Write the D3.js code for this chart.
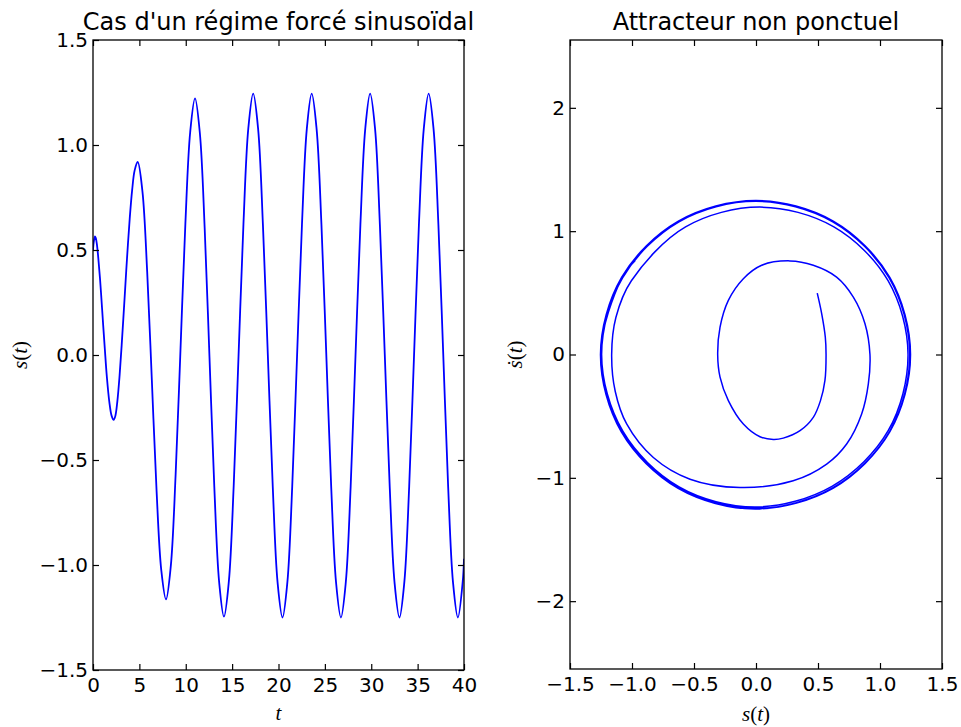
<!DOCTYPE html>
<html>
<head>
<meta charset="utf-8">
<script src="https://cdn.jsdelivr.net/npm/d3@7"></script>
<style>
  html, body { margin: 0; padding: 0; background: #ffffff; }
  svg { display: block; }
  .tick text { font-family: "DejaVu Sans", sans-serif; font-size: 20px; fill: #000; }
</style>
</head>
<body>
<svg id="chart" width="961" height="727"></svg>
<script>
// ---------------- DATA ----------------
const leftTitle = "Cas d'un régime forcé sinusoïdal";
const rightTitle = "Attracteur non ponctuel";

// time series s(t)
const timeValues = [
  0, 0.1, 0.22, 0.31, 0.44, 0.57, 0.77, 0.98, 1.10, 1.27, 1.49, 1.76, 2.01, 2.23,
  2.41, 2.62, 2.86, 3.09, 3.41, 3.67, 3.96, 4.22, 4.49, 4.82,
  5.33, 5.84, 6.345, 6.85, 7.36, 7.87,
  8.39, 8.91, 9.435, 9.96, 10.48, 11.0,
  11.52, 12.04, 12.56, 13.08, 13.60, 14.12,
  14.645, 15.17, 15.695, 16.22, 16.745, 17.27,
  17.80, 18.32, 18.85, 19.38, 19.90, 20.43,
  20.955, 21.48, 22.005, 22.53, 23.055, 23.58,
  24.105, 24.63, 25.155, 25.68, 26.205, 26.73,
  27.255, 27.78, 28.305, 28.83, 29.355, 29.88,
  30.41, 30.93, 31.46, 31.99, 32.51, 33.04,
  33.565, 34.09, 34.615, 35.14, 35.665, 36.19,
  36.715, 37.24, 37.765, 38.29, 38.815, 39.34,
  39.865, 40.0
];
const sValues = [
  0.50, 0.543, 0.565, 0.556, 0.52, 0.462, 0.355, 0.22, 0.14, 0.032, -0.102, -0.223, -0.29, -0.309,
  -0.29, -0.223, -0.102, 0.046, 0.274, 0.462, 0.65, 0.785, 0.879, 0.919,
  0.779, 0.398, -0.12, -0.643, -1.024, -1.164,
  -1.004, -0.568, 0.029, 0.626, 1.062, 1.222,
  1.057, 0.605, -0.012, -0.629, -1.081, -1.246,
  -1.079, -0.623, 0.0, 0.623, 1.079, 1.245,
  1.078, 0.621, 0.0, -0.626, -1.083, -1.25,
  -1.083, -0.626, 0.0, 0.621, 1.078, 1.245,
  1.078, 0.621, 0.0, -0.626, -1.083, -1.25,
  -1.083, -0.626, 0.0, 0.621, 1.078, 1.245,
  1.078, 0.621, 0.0, -0.626, -1.083, -1.25,
  -1.083, -0.626, 0.0, 0.621, 1.078, 1.245,
  1.078, 0.621, 0.0, -0.626, -1.083, -1.25,
  -1.078, -0.97
];

// phase portrait: s(t) and ds/dt
const phaseS = [
  0.494, 0.53, 0.559, 0.565, 0.556, 0.52, 0.462, 0.355, 0.22, 0.14, 0.032, -0.102, -0.223, -0.29, -0.309,
  -0.29, -0.223, -0.102, 0.046, 0.274, 0.462, 0.65, 0.785, 0.879, 0.919,
  0.906, 0.852, 0.731, 0.57, 0.30, -0.129, -0.532, -0.828, -1.043, -1.135, -1.164,
  -1.13, -1.005, -0.568, 0.03, 0.628, 1.065, 1.226,
  1.067, 0.616, -0.005, -0.62, -1.075, -1.245,
  -1.076, -0.621, -0.003, 0.619, 1.074, 1.24,
  1.078, 0.622, -0.004, -0.626, -1.083, -1.252,
  -1.083, -0.625, 0.0, 0.622, 1.078, 1.244,
  1.079, 0.623, -0.005, -0.627, -1.085, -1.253,
  -1.084, -0.626, 0.0, 0.623, 1.079, 1.246,
  1.08, 0.624, -0.005, -0.628, -1.086, -1.254,
  -1.084, -0.626, 0.0, 0.623, 1.079, 1.246,
  1.08, 0.624, -0.005, -0.628, -1.086, -1.254,
  -1.08, -0.975
];
const phaseDS = [
  0.498, 0.33, 0.14, 0.0, -0.21, -0.374, -0.51, -0.618, -0.678, -0.689, -0.667, -0.564, -0.374, -0.184, 0.0,
  0.222, 0.439, 0.615, 0.724, 0.759, 0.724, 0.628, 0.466, 0.25, 0.0,
  -0.238, -0.482, -0.726, -0.889, -1.024, -1.079, -1.011, -0.835, -0.563, -0.3, 0.0,
  0.3, 0.598, 1.035, 1.195, 1.035, 0.598, 0.0,
  -0.616, -1.067, -1.236, -1.073, -0.62, 0.0,
  0.621, 1.076, 1.242, 1.076, 0.621, 0.0,
  -0.623, -1.08, -1.248, -1.082, -0.625, 0.0,
  0.624, 1.08, 1.247, 1.08, 0.624, 0.0,
  -0.625, -1.082, -1.251, -1.084, -0.626, 0.0,
  0.625, 1.081, 1.248, 1.081, 0.625, 0.0,
  -0.626, -1.083, -1.252, -1.085, -0.627, 0.0,
  0.625, 1.081, 1.248, 1.081, 0.625, 0.0,
  -0.626, -1.083, -1.252, -1.085, -0.627, 0.0,
  0.624, 0.76
];

const leftXTicks = [0, 5, 10, 15, 20, 25, 30, 35, 40];
const leftXTickLabels = ["0", "5", "10", "15", "20", "25", "30", "35", "40"];
const leftYTicks = [-1.5, -1.0, -0.5, 0.0, 0.5, 1.0, 1.5];
const leftYTickLabels = ["\u22121.5", "\u22121.0", "\u22120.5", "0.0", "0.5", "1.0", "1.5"];
const rightXTicks = [-1.5, -1.0, -0.5, 0.0, 0.5, 1.0, 1.5];
const rightXTickLabels = ["\u22121.5", "\u22121.0", "\u22120.5", "0.0", "0.5", "1.0", "1.5"];
const rightYTicks = [-2, -1, 0, 1, 2];
const rightYTickLabels = ["\u22122", "\u22121", "0", "1", "2"];

// ---------------- DRAW ----------------
const svg = d3.select("#chart");
svg.append("rect").attr("width", 961).attr("height", 727).attr("fill", "#fff");

const L = { x0: 93, x1: 464, y0: 40, y1: 670 };
const R = { x0: 570, x1: 942, y0: 40, y1: 669 };

const xL = d3.scaleLinear().domain([0, 40]).range([L.x0, L.x1]);
const yL = d3.scaleLinear().domain([-1.5, 1.5]).range([L.y1, L.y0]);
const xR = d3.scaleLinear().domain([-1.5, 1.5]).range([R.x0, R.x1]);
const yR = d3.scaleLinear().domain([-2.55, 2.55]).range([R.y1, R.y0]);

const TICK = 6;

function drawAxes(box, xs, ys, xt, xtl, yt, ytl) {
  const g = svg.append("g");
  const fmt = (vals, labels) => (d) => labels[vals.indexOf(d)];
  const b = g.append("g").attr("transform", `translate(0,${box.y1})`)
    .call(d3.axisBottom(xs).tickValues(xt).tickFormat(fmt(xt, xtl)).tickSizeInner(-TICK).tickSizeOuter(0).tickPadding(8));
  const t = g.append("g").attr("transform", `translate(0,${box.y0})`)
    .call(d3.axisTop(xs).tickValues(xt).tickFormat("").tickSizeInner(-TICK).tickSizeOuter(0));
  const l = g.append("g").attr("transform", `translate(${box.x0},0)`)
    .call(d3.axisLeft(ys).tickValues(yt).tickFormat(fmt(yt, ytl)).tickSizeInner(-TICK).tickSizeOuter(0).tickPadding(5));
  const r = g.append("g").attr("transform", `translate(${box.x1},0)`)
    .call(d3.axisRight(ys).tickValues(yt).tickFormat("").tickSizeInner(-TICK).tickSizeOuter(0));
  [b, t, l, r].forEach(a => {
    a.select(".domain").remove();
    a.selectAll(".tick line").attr("stroke", "#000").attr("stroke-width", 1.2);
    a.attr("font-family", null).attr("font-size", null);
  });
  g.append("rect")
    .attr("x", box.x0).attr("y", box.y0)
    .attr("width", box.x1 - box.x0).attr("height", box.y1 - box.y0)
    .attr("fill", "none").attr("stroke", "#000").attr("stroke-width", 1.3);
}

const defs = svg.append("defs");
defs.append("clipPath").attr("id", "clipL").append("rect")
  .attr("x", L.x0).attr("y", L.y0).attr("width", L.x1 - L.x0).attr("height", L.y1 - L.y0);
defs.append("clipPath").attr("id", "clipR").append("rect")
  .attr("x", R.x0).attr("y", R.y0).attr("width", R.x1 - R.x0).attr("height", R.y1 - R.y0);

const seriesL = timeValues.map((t, i) => [t, sValues[i]]);
svg.append("path")
  .datum(seriesL)
  .attr("clip-path", "url(#clipL)")
  .attr("fill", "none").attr("stroke", "#0000ff").attr("stroke-width", 1.8)
  .attr("stroke-linejoin", "round")
  .attr("d", d3.line().x(d => xL(d[0])).y(d => yL(d[1])).curve(d3.curveCatmullRom.alpha(0.5)));

const seriesR = phaseS.map((s, i) => [s, phaseDS[i]]);
svg.append("path")
  .datum(seriesR)
  .attr("clip-path", "url(#clipR)")
  .attr("fill", "none").attr("stroke", "#0000ff").attr("stroke-width", 1.5)
  .attr("stroke-linejoin", "round")
  .attr("d", d3.line().x(d => xR(d[0])).y(d => yR(d[1])).curve(d3.curveCatmullRom.alpha(0.5)));

drawAxes(L, xL, yL, leftXTicks, leftXTickLabels, leftYTicks, leftYTickLabels);
drawAxes(R, xR, yR, rightXTicks, rightXTickLabels, rightYTicks, rightYTickLabels);

svg.append("text").attr("x", (L.x0 + L.x1) / 2).attr("y", 30)
  .attr("text-anchor", "middle").attr("font-family", "DejaVu Sans, sans-serif")
  .attr("font-size", 24).attr("fill", "#000").text(leftTitle);
svg.append("text").attr("x", (R.x0 + R.x1) / 2).attr("y", 30)
  .attr("text-anchor", "middle").attr("font-family", "DejaVu Sans, sans-serif")
  .attr("font-size", 24).attr("fill", "#000").text(rightTitle);

function mathLabel(x, y, rotate, parts) {
  const t = svg.append("text")
    .attr("text-anchor", "middle")
    .attr("font-family", "Liberation Serif, DejaVu Serif, serif")
    .attr("font-size", 21).attr("fill", "#000")
    .attr("transform", `translate(${x},${y})` + (rotate ? " rotate(-90)" : ""));
  parts.forEach(p => t.append("tspan").attr("font-style", p.i ? "italic" : "normal").text(p.s));
}
mathLabel((L.x0 + L.x1) / 2, 720, false, [{ s: "t", i: true }]);
mathLabel((R.x0 + R.x1) / 2, 721, false, [{ s: "s", i: true }, { s: "(" }, { s: "t", i: true }, { s: ")" }]);
mathLabel(27, (L.y0 + L.y1) / 2, true, [{ s: "s", i: true }, { s: "(" }, { s: "t", i: true }, { s: ")" }]);
mathLabel(522, (R.y0 + R.y1) / 2, true, [{ s: "\u1E61", i: true }, { s: "(" }, { s: "t", i: true }, { s: ")" }]);
</script>
</body>
</html>
